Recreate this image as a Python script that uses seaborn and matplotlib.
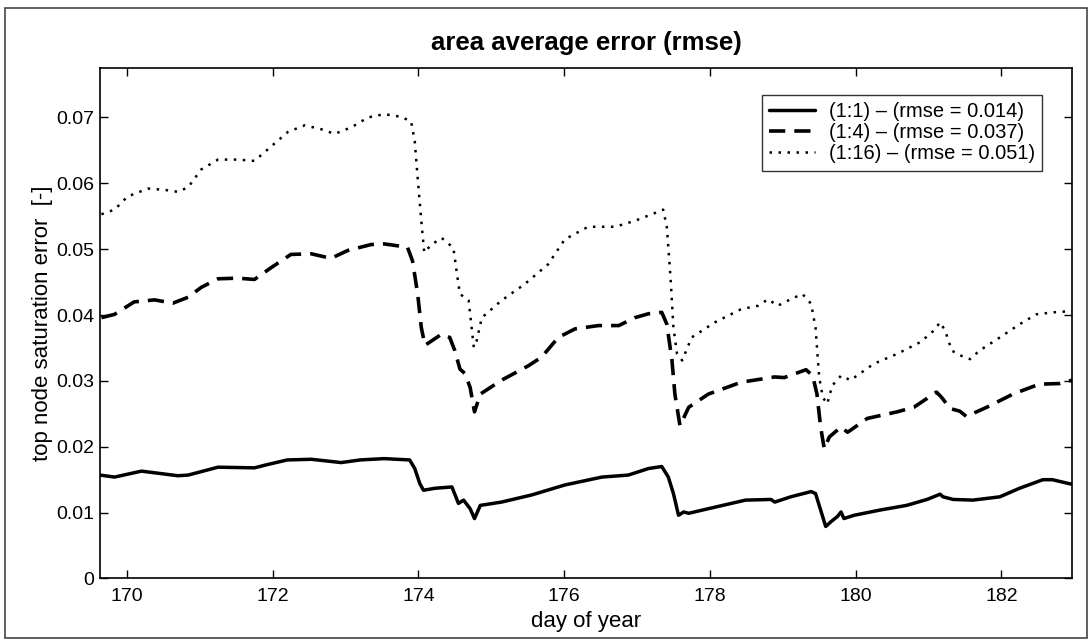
import matplotlib
matplotlib.use("Agg")
import matplotlib.pyplot as plt
import matplotlib.ticker as mticker
from matplotlib.patches import Rectangle
import seaborn as sns

# values
day_11 = [169.63, 169.83, 170.2, 170.7, 170.84, 171.25, 171.75, 171.93, 172.2, 172.53,
          172.94, 173.2, 173.53, 173.88, 173.95, 174.02, 174.07, 174.23, 174.46, 174.55,
          174.62, 174.71, 174.77, 174.85, 175.14, 175.56, 176.01, 176.52, 176.88, 177.16,
          177.34, 177.43, 177.5, 177.57, 177.64, 177.71, 177.98, 178.49, 178.84, 178.89,
          179.11, 179.39, 179.45, 179.52, 179.59, 179.66, 179.75, 179.8, 179.84, 179.98,
          180.34, 180.7, 180.98, 181.16, 181.2, 181.34, 181.61, 181.98, 182.25, 182.57,
          182.7, 182.97]
err_11 = [0.0157, 0.0154, 0.0163, 0.0156, 0.0157, 0.0169, 0.0168, 0.0173, 0.0180, 0.0181,
          0.0176, 0.0180, 0.0182, 0.0180, 0.0167, 0.0144, 0.0134, 0.0137, 0.0139, 0.0114,
          0.0119, 0.0106, 0.0091, 0.0111, 0.0116, 0.0127, 0.0142, 0.0154, 0.0157, 0.0167,
          0.0170, 0.0154, 0.0129, 0.0096, 0.0101, 0.0099, 0.0106, 0.0119, 0.0120, 0.0116,
          0.0124, 0.0132, 0.0129, 0.0104, 0.0079, 0.0086, 0.0094, 0.0101, 0.0091, 0.0096,
          0.0104, 0.0111, 0.0120, 0.0128, 0.0124, 0.0120, 0.0119, 0.0124, 0.0137, 0.0150,
          0.0150, 0.0143]

day_14 = [169.65, 169.83, 170.1, 170.38, 170.63, 170.84, 171.02, 171.25, 171.52, 171.75,
          171.98, 172.25, 172.53, 172.8, 173.03, 173.35, 173.53, 173.85, 173.92, 173.99,
          174.04, 174.09, 174.32, 174.43, 174.5, 174.57, 174.64, 174.71, 174.77, 174.85,
          175.14, 175.51, 175.69, 175.92, 176.15, 176.47, 176.75, 176.97, 177.16, 177.34,
          177.41, 177.48, 177.52, 177.59, 177.71, 177.98, 178.43, 178.89, 179.02, 179.32,
          179.41, 179.47, 179.52, 179.57, 179.64, 179.8, 179.89, 180.16, 180.57, 180.8,
          181.11, 181.18, 181.3, 181.43, 181.52, 181.8, 182.16, 182.52, 182.8, 182.97]
err_14 = [0.0396, 0.0401, 0.0420, 0.0423, 0.0418, 0.0427, 0.0442, 0.0455, 0.0456, 0.0454,
          0.0472, 0.0492, 0.0493, 0.0486, 0.0498, 0.0507, 0.0508, 0.0503, 0.0482, 0.0432,
          0.0381, 0.0354, 0.0371, 0.0366, 0.0346, 0.0318, 0.0311, 0.0290, 0.0253, 0.0280,
          0.0301, 0.0323, 0.0336, 0.0366, 0.0379, 0.0384, 0.0384, 0.0396, 0.0402, 0.0404,
          0.0386, 0.0331, 0.0280, 0.0232, 0.0260, 0.0280, 0.0298, 0.0306, 0.0305, 0.0317,
          0.0308, 0.0280, 0.0230, 0.0197, 0.0215, 0.0230, 0.0222, 0.0243, 0.0253, 0.0260,
          0.0283, 0.0275, 0.0258, 0.0254, 0.0246, 0.0260, 0.0280, 0.0295, 0.0296, 0.0301]

day_116 = [169.65, 169.83, 170.01, 170.29, 170.52, 170.7, 170.84, 171.02, 171.25, 171.52,
           171.75, 171.98, 172.21, 172.44, 172.67, 172.85, 173.08, 173.31, 173.53, 173.76,
           173.9, 173.95, 173.99, 174.04, 174.08, 174.18, 174.32, 174.48, 174.53, 174.57,
           174.69, 174.76, 174.8, 174.87, 175.14, 175.46, 175.78, 176.01, 176.33, 176.7,
           176.97, 177.25, 177.36, 177.41, 177.46, 177.5, 177.55, 177.62, 177.75, 178.07,
           178.43, 178.66, 178.8, 178.93, 179.11, 179.27, 179.39, 179.45, 179.5, 179.55,
           179.61, 179.68, 179.8, 179.93, 180.25, 180.57, 180.89, 181.07, 181.16, 181.23,
           181.32, 181.43, 181.57, 181.7, 181.98, 182.25, 182.48, 182.7, 182.97]
err_116 = [0.0553, 0.0560, 0.0580, 0.0592, 0.0590, 0.0587, 0.0594, 0.0621, 0.0636, 0.0636,
           0.0634, 0.0656, 0.0678, 0.0688, 0.0682, 0.0675, 0.0685, 0.0700, 0.0705, 0.0701,
           0.0694, 0.0664, 0.0608, 0.0543, 0.0495, 0.0507, 0.0517, 0.0502, 0.0462, 0.0432,
           0.0422, 0.0351, 0.0361, 0.0396, 0.0422, 0.0447, 0.0477, 0.0515, 0.0534, 0.0534,
           0.0543, 0.0555, 0.0560, 0.0533, 0.0457, 0.0381, 0.0341, 0.0331, 0.0366, 0.0389,
           0.0409, 0.0414, 0.0424, 0.0414, 0.0424, 0.0432, 0.0417, 0.0381, 0.0306, 0.0275,
           0.0265, 0.0293, 0.0308, 0.0301, 0.0326, 0.0341, 0.0359, 0.0376, 0.0389, 0.0376,
           0.0346, 0.0339, 0.0333, 0.0346, 0.0366, 0.0386, 0.0401, 0.0404, 0.0406]

labels = ["(1:1) – (rmse = 0.014)", "(1:4) – (rmse = 0.037)", "(1:16) – (rmse = 0.051)"]
x_ticks = [170, 172, 174, 176, 178, 180, 182]
y_ticks = [0, 0.01, 0.02, 0.03, 0.04, 0.05, 0.06, 0.07]

sns.set_style("ticks")
plt.rcParams["font.family"] = ["Liberation Sans", "DejaVu Sans"]
plt.rcParams["text.color"] = "black"
plt.rcParams["axes.labelcolor"] = "black"
plt.rcParams["xtick.color"] = "black"
plt.rcParams["ytick.color"] = "black"

fig = plt.figure(figsize=(10.9, 6.4), dpi=100)
ax = fig.add_axes([0.0917, 0.0961, 0.8918, 0.7976])

sns.lineplot(x=day_11, y=err_11, ax=ax, color="black", linewidth=2.5,
             label=labels[0], sort=False, estimator=None)
sns.lineplot(x=day_14, y=err_14, ax=ax, color="black", linewidth=2.6,
             label=labels[1], sort=False, estimator=None)
sns.lineplot(x=day_116, y=err_116, ax=ax, color="black", linewidth=1.8,
             label=labels[2], sort=False, estimator=None)
ax.lines[1].set_dashes((4.5, 2.5))
ax.lines[2].set_dashes((1, 2.6))

ax.set_xlim(169.63, 182.97)
ax.set_ylim(0, 0.0775)
ax.set_xticks(x_ticks)
ax.set_yticks(y_ticks)
ax.yaxis.set_major_formatter(mticker.FuncFormatter(lambda v, p: "%g" % round(v, 3)))
ax.tick_params(direction="in", top=True, right=True, length=6, width=1,
               labelsize=14, colors="black")
ax.tick_params(axis="x", pad=7)
ax.tick_params(axis="y", pad=4)
for s in ax.spines.values():
    s.set_visible(True)
    s.set_linewidth(1.2)
    s.set_color("black")

ax.set_title("area average error (rmse)", fontsize=18.5, fontweight="bold", pad=13)
ax.set_xlabel("day of year", fontsize=16, labelpad=4)
ax.set_ylabel("top node saturation error  [-]", fontsize=16, labelpad=2)

leg = ax.legend(loc="upper right", bbox_to_anchor=(0.969, 0.947), borderaxespad=0,
                fontsize=14.5, frameon=True, fancybox=False, handlelength=2.3,
                handletextpad=0.65, labelspacing=0.1, borderpad=0.36)
leg.get_frame().set_edgecolor("black")
leg.get_frame().set_linewidth(1.0)
for h in leg.get_lines():
    h.set_color("black")

fig.patches.append(Rectangle((0.005, 0.003), 0.992, 0.984, transform=fig.transFigure,
                             fill=False, edgecolor="#444444", linewidth=1.2))

fig.savefig("out.png", dpi=100, facecolor="white")
